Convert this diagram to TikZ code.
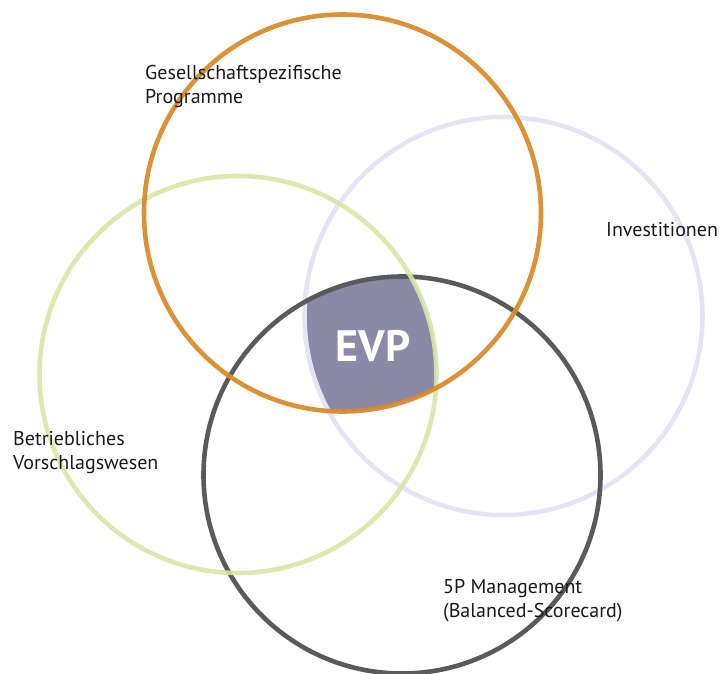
\documentclass[tikz,border=0pt]{standalone}
\usepackage{fontspec}
\setmainfont{PT Sans}
\begin{document}
\begin{tikzpicture}[x=1pt,y=-1pt,
  ring/.style={line width=4.6pt},
  lbl/.style={font=\fontsize{20}{24}\selectfont, align=left, inner sep=0pt, text=black!90}]
\definecolor{corange}{HTML}{D98B2B}
\definecolor{cgreen}{HTML}{D8E6A6}
\definecolor{clav}{HTML}{E6E4F2}
\definecolor{cdark}{HTML}{5A5A5A}
\definecolor{cevp}{HTML}{8B89A6}
\useasboundingbox (0,0) rectangle (723,674);
\coordinate (O) at (342.5,213);
\coordinate (G) at (238,374.5);
\coordinate (L) at (503.5,316);
\coordinate (D) at (402,475);
% EVP intersection
\begin{scope}
  \clip (O) circle (198.5);
  \clip (G) circle (198.5);
  \clip (L) circle (199);
  \fill[cevp] (D) circle (198.5);
\end{scope}
\draw[ring, clav] (L) circle (199);
\draw[ring, cdark] (D) circle (198.5);
\draw[ring, cgreen, opacity=0.9] (G) circle (198.5);
\draw[ring, corange, opacity=0.95] (O) circle (198.5);
\node[font=\fontsize{44}{44}\selectfont\bfseries, text=white, inner sep=0pt] (evp) at (373,346) {EVP};
\node[lbl, anchor=west] (gp) at (145,87) {Gesellschaftspezifische\\Programme};
\node[lbl, anchor=west] (inv) at (606,230) {Investitionen};
\node[lbl, anchor=west] (bv) at (13,453) {Betriebliches\\Vorschlagswesen};
\node[lbl, anchor=west] (fp) at (443,601) {5P Management\\(Balanced-Scorecard)};
\end{tikzpicture}
\end{document}
